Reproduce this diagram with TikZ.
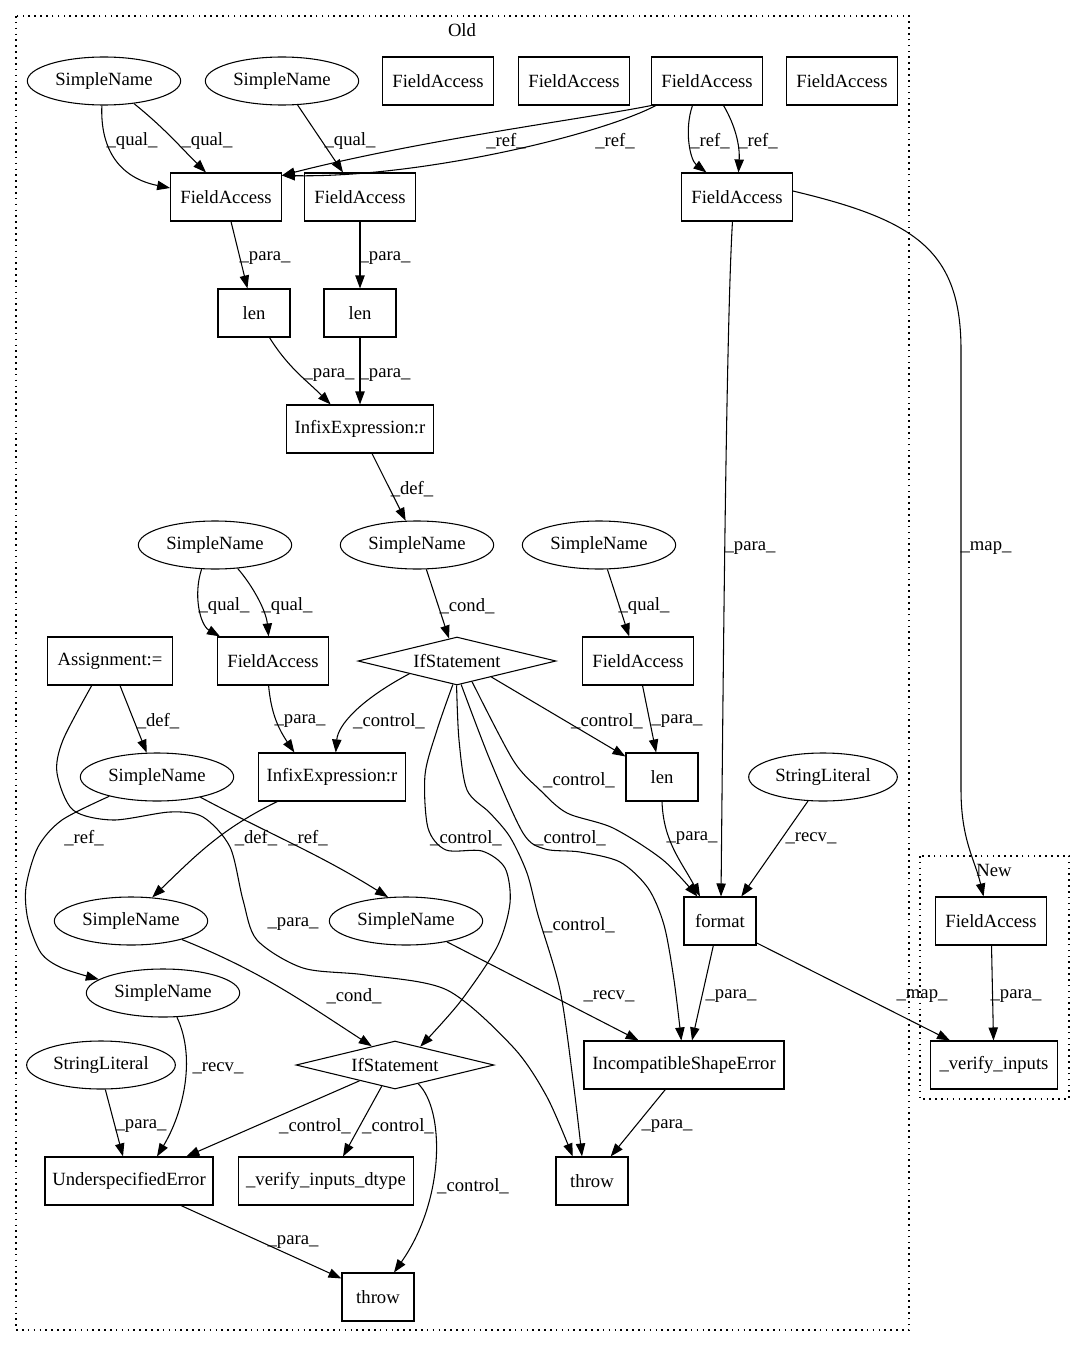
\documentclass[tikz,border=0pt]{standalone}
\usepackage{fontspec}
\setmainfont{Liberation Serif}
\usetikzlibrary{shapes.geometric,arrows.meta}
\begin{document}
\begin{tikzpicture}[x=0.75pt,y=-0.75pt,
  every node/.style={font=\fontsize{14}{16}\selectfont},
  box/.style={draw, rectangle, line width=0.8pt, minimum height=36pt, inner sep=0pt},
  ell/.style={draw, ellipse, line width=0.8pt, minimum height=36pt, minimum width=115pt, inner sep=0pt},
  dia/.style={draw, diamond, aspect=4, line width=0.8pt, minimum width=148.5pt, minimum height=36pt, inner sep=0pt},
  lab/.style={inner sep=0pt},
  elab/.style={inner sep=0pt, yshift=-2.25pt},
  edge/.style={draw, line width=0.8pt, -{Triangle[length=9.75pt,width=7pt]}},
  clus/.style={draw, line width=1pt, dash pattern=on 1.2pt off 3.2pt}]

\fill[white] (0,0) rectangle (1085,1348);
\useasboundingbox (0,0) rectangle (1085,1348);

% clusters
\draw[clus] (16,16) rectangle (909,1330);
\node[lab] (oldlbl) at (462,30) {Old};
\draw[clus] (920,856) rectangle (1069,1099);
\node[lab] (newlbl) at (994,870) {New};

% nodes
\node[ell] (sn1) at (104,81) {SimpleName};
\node[ell] (sn2) at (282,81) {SimpleName};
\node[box, minimum width=83pt] (faA) at (438,81) {FieldAccess};
\node[box, minimum width=83pt] (faB) at (574,81) {FieldAccess};
\node[box, minimum width=83pt] (faC) at (707,81) {FieldAccess};
\node[box, minimum width=83pt] (faD) at (842,81) {FieldAccess};
\node[box, minimum width=83pt] (fa2) at (226,197) {FieldAccess};
\node[box, minimum width=83pt] (fa3) at (360,197) {FieldAccess};
\node[box, minimum width=83pt] (fa4) at (737,197) {FieldAccess};
\node[box, minimum width=54pt] (len1) at (254,313) {len};
\node[box, minimum width=54pt] (len2) at (360,313) {len};
\node[box, minimum width=110pt] (inf1) at (360,429) {InfixExpression:r};
\node[ell] (sn3) at (215,545) {SimpleName};
\node[ell] (sn4) at (417,545) {SimpleName};
\node[ell] (sn5) at (599,545) {SimpleName};
\node[box, minimum width=94pt] (asg) at (110,661) {Assignment:=};
\node[box, minimum width=83pt] (fa5) at (273,661) {FieldAccess};
\node[dia] (if1) at (457,661) {IfStatement};
\node[box, minimum width=83pt] (fa6) at (638,661) {FieldAccess};
\node[ell] (sn6) at (157,777) {SimpleName};
\node[box, minimum width=110pt] (inf2) at (332,777) {InfixExpression:r};
\node[box, minimum width=54pt] (len3) at (662,777) {len};
\node[ell, minimum width=111.5pt] (str1) at (823,777) {StringLiteral};
\node[ell] (sn7) at (131,921) {SimpleName};
\node[ell] (sn8) at (406,921) {SimpleName};
\node[box, minimum width=54pt] (fmt) at (720,921) {format};
\node[box, minimum width=83pt] (faN) at (991,921) {FieldAccess};
\node[ell] (sn9) at (163,993) {SimpleName};
\node[ell, minimum width=111.5pt] (str2) at (101,1065) {StringLiteral};
\node[dia] (if2) at (395,1065) {IfStatement};
\node[box, minimum width=150pt] (ise) at (684,1065) {IncompatibleShapeError};
\node[box, minimum width=95pt] (vin) at (994,1065) {\_verify\_inputs};
\node[box, minimum width=126pt] (use) at (129,1181) {UnderspecifiedError};
\node[box, minimum width=131pt] (vid) at (326,1181) {\_verify\_inputs\_dtype};
\node[box, minimum width=54pt] (thr1) at (592,1181) {throw};
\node[box, minimum width=54pt] (thr2) at (378,1297) {throw};

% edges
\draw[edge] (sn1.-95) .. controls (100,150) and (120,178) .. ([yshift=6.75pt]fa2.west) node[elab, at={(132,138)}] {\_qual\_};
\draw[edge] (sn1.-37) to[out=-39,in=135] ([xshift=-15pt]fa2.north) node[elab, at={(207,138)}] {\_qual\_};
\draw[edge] (sn2.-57) -- ([xshift=-12.75pt]fa3.north) node[elab, at={(350,138)}] {\_qual\_};
\draw[edge] (faC.south west) .. controls (590,118) and (420,140) .. ([yshift=-2.25pt]fa2.north east) node[elab, at={(506,138)}] {\_ref\_};
\draw[edge] ([xshift=3.5pt]faC.south west) .. controls (600,135) and (420,178) .. ([yshift=-2.25pt]fa2.north east) node[elab, at={(615,138)}] {\_ref\_};
\draw[edge] ([xshift=-10.9pt]faC.south) .. controls (684,130) and (690,160) .. ([xshift=-22.9pt]fa4.north) node[elab, at={(710,138)}] {\_ref\_};
\draw[edge] ([xshift=12.4pt]faC.south) .. controls (735,125) and (740,145) .. ([xshift=1.1pt]fa4.north) node[elab, at={(758,138)}] {\_ref\_};
\draw[edge] ([xshift=3.75pt]fa2.south) -- ([xshift=-4.9pt]len1.north) node[elab, at={(265,255)}] {\_para\_};
\draw[edge] (fa3) -- (len2) node[elab, at={(385,255)}] {\_para\_};
\draw[edge] ([xshift=11.6pt]len1.south) to[out=-58,in=135] ([xshift=-22pt]inf1.north) node[elab, at={(329,372)}] {\_para\_};
\draw[edge] (len2) -- (inf1) node[elab, at={(385,372)}] {\_para\_};
\draw[edge] ([xshift=9pt]inf1.south) -- (sn4.115) node[elab, at={(412,486)}] {\_def\_};
\draw[edge] (sn4.-69) -- ([xshift=-6pt,yshift=-1.5pt]if1.north) node[elab, at={(467,603)}] {\_cond\_};
\draw[edge] (sn3.-119) .. controls (193,595) and (200,625) .. ([xshift=-39.75pt]fa5.north) node[elab, at={(224,603)}] {\_qual\_};
\draw[edge] (sn3.-46) .. controls (252,585) and (266,610) .. ([xshift=-3.3pt]fa5.north) node[elab, at={(287,603)}] {\_qual\_};
\draw[edge] (sn5.-71) -- ([xshift=-6.6pt]fa6.north) node[elab, at={(644,603)}] {\_qual\_};
\draw[edge] ([xshift=-3.4pt]fa4.south) .. controls (726,330) and (723,700) .. ([xshift=0.75pt]fmt.north) node[elab, at={(750,545)}] {\_para\_};
\draw[edge] ([yshift=4.5pt]fa4.east) .. controls (915,220) and (961,250) .. (961,350) -- (961,790) .. controls (961,840) and (975,860) .. ([xshift=-5.6pt]faN.north) node[elab, at={(986,545)}] {\_map\_};
\draw[edge] ([xshift=-3.3pt]fa5.south) to[out=-85,in=124] ([xshift=-28.2pt]inf2.north) node[elab, at={(300,718)}] {\_para\_};
\draw[edge] (if1.-165) .. controls (360,700) and (338,725) .. ([xshift=2.8pt]inf2.north) node[elab, at={(389,718)}] {\_control\_};
\draw[edge] (if1.-25) -- ([yshift=-3pt]len3.north west) node[elab, at={(607,718)}] {\_control\_};
\draw[edge] ([xshift=3.4pt]fa6.south) -- ([xshift=-4.4pt]len3.north) node[elab, at={(677,718)}] {\_para\_};
\draw[edge] ([xshift=7.5pt]asg.south) -- (sn6.113) node[elab, at={(158,718)}] {\_def\_};
\draw[edge] plot[smooth] coordinates {([xshift=-13.7pt]asg.south) (63,740) (57,773) (73,810) (113,820) (170,812) (203,817) (230,847) (243,900) (257,940) (303,968) (366,975) (447,990) (513,1047) (547,1097) ([xshift=-14.5pt]thr1.north)};
\node[elab] (l21) at (293,921) {\_para\_};
\draw[edge] plot[smooth] coordinates {(sn6.-158) (62,820) (38,847) (26,887) (28,920) (41,953) (62,968) (sn9.168)};
\node[elab] (l22) at (84,835) {\_ref\_};
\draw[edge] (sn6.-25) to[out=-28,in=148] (sn8.127) node[elab, at={(308,835)}] {\_ref\_};
\draw[edge] ([xshift=-41pt]inf2.south) to[out=-154,in=44] (sn7.48) node[elab, at={(256,835)}] {\_def\_};
\draw[edge] (sn7.-20) to[out=-22,in=147] (if2.141) node[elab, at={(354,993)}] {\_cond\_};
\draw[edge] (sn8.-27) -- ([xshift=-34pt]ise.north) node[elab, at={(609,993)}] {\_recv\_};
\draw[edge] plot[smooth] coordinates {(if1.-100) (437,730) (425,775) (428,828) (446,850) (482,851) (505,868) (510,903) (497,947) (460,1002) (if2.36)};
\node[elab] (l27) at (466,835) {\_control\_};
\draw[edge] plot[smooth] coordinates {(if1.-91) (459,740) (467,790) (490,813) (510,837) (527,873) (538,915) (560,990) (573,1080) ([xshift=-7.5pt]thr1.north)};
\node[elab] (l28) at (579,922) {\_control\_};
\draw[edge] plot[smooth] coordinates {(if1.-80) (490,760) (523,833) (545,849) (580,852) (620,862) (648,888) (664,925) (674,980) ([xshift=-2pt]ise.north)};
\node[elab] (l29) at (570,835) {\_control\_};
\draw[edge] plot[smooth] coordinates {(if1.-54) (513,760) (540,790) (567,813) (613,828) (663,860) ([xshift=-17pt]fmt.north)};
\node[elab] (l30) at (579,777) {\_control\_};
\draw[edge] (len3.south) to[out=-88,in=118] ([xshift=-15pt]fmt.north) node[elab, at={(692,835)}] {\_para\_};
\draw[edge] (str1.-122) -- ([xshift=16pt]fmt.north) node[elab, at={(811,835)}] {\_recv\_};
\draw[edge] ([xshift=-5pt]fmt.south) -- ([xshift=6pt]ise.north) node[elab, at={(731,993)}] {\_para\_};
\draw[edge] ([yshift=2pt]fmt.south east) -- ([xshift=-33pt]vin.north) node[elab, at={(922,993)}] {\_map\_};
\draw[edge] (faN) -- (vin) node[elab, at={(1016,993)}] {\_para\_};
\draw[edge] ([xshift=-14pt]ise.south) -- ([xshift=14pt]thr1.north) node[elab, at={(667,1123)}] {\_para\_};
\draw[edge] (str2.-80) -- ([xshift=-4.5pt]use.north) node[elab, at={(141,1123)}] {\_para\_};
\draw[edge] (sn9.-60) .. controls (197,1060) and (182,1115) .. ([xshift=21pt]use.north) node[elab, at={(218,1065)}] {\_recv\_};
\draw[edge] (if2.-156) -- ([xshift=43pt]use.north) node[elab, at={(315,1123)}] {\_control\_};
\draw[edge] (if2.-122) -- ([xshift=12.75pt]vid.north) node[elab, at={(398,1123)}] {\_control\_};
\draw[edge] (if2.-39) .. controls (445,1110) and (445,1200) .. ([xshift=12pt]thr2.north) node[elab, at={(473,1183)}] {\_control\_};
\draw[edge] ([xshift=39pt]use.south) -- ([yshift=-4.5pt]thr2.north west) node[elab, at={(293,1239)}] {\_para\_};
\end{tikzpicture}
\end{document}
